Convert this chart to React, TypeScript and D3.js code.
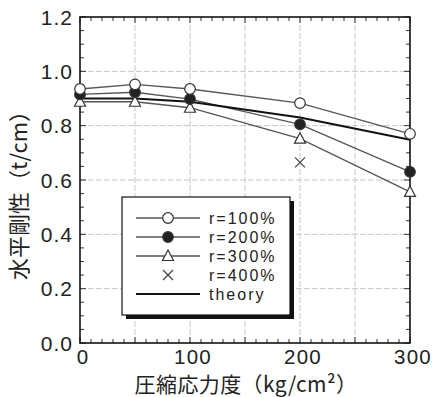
import React from "react";
import * as d3 from "d3";

const xValues = [0, 50, 100, 200, 300];
const r100 = [0.935, 0.952, 0.935, 0.883, 0.77];
const r200 = [0.915, 0.923, 0.898, 0.805, 0.63];
const r300 = [0.888, 0.888, 0.866, 0.752, 0.556];
const r400x = [200];
const r400 = [0.665];
const theory = [0.9, 0.9, 0.888, 0.83, 0.748];
const xTicks = [0, 100, 200, 300];
const yTicks = [0, 0.2, 0.4, 0.6, 0.8, 1.0, 1.2];
const legendLabels = ["r=100%", "r=200%", "r=300%", "r=400%", "theory"];

const W = 434, H = 397;
const L = 80, R = 410, T = 17, B = 343;
const font = "'Liberation Sans', Arial, sans-serif";
const cjk = "'Noto Sans CJK JP', 'Liberation Sans', sans-serif";

export default function App() {
  const x = d3.scaleLinear().domain([0, 300]).range([L, R]);
  const y = d3.scaleLinear().domain([0, 1.2]).range([B, T]);
  const line = d3.line<[number, number]>().x(d => x(d[0])).y(d => y(d[1]));
  const pts = (vals: number[]) => xValues.map((v, i) => [v, vals[i]] as [number, number]);

  const xMinor = d3.range(0, 301, 10);
  const yMinor = d3.range(0, 1.2001, 0.05);
  const gridX = [50, 100, 150, 200, 250];
  const gridY = [0.2, 0.4, 0.6, 0.8, 1.0];

  const circle = (cx: number, cy: number, fill: string, k: string) => (
    <circle key={k} cx={cx} cy={cy} r={5.3} fill={fill} stroke="#333" strokeWidth={1.2} />
  );
  const tri = (cx: number, cy: number, k: string) => (
    <path key={k} d={`M${cx},${cy - 6} L${cx + 5.5},${cy + 4.5} L${cx - 5.5},${cy + 4.5} Z`} fill="#fff" stroke="#333" strokeWidth={1.2} />
  );
  const cross = (cx: number, cy: number, k: string) => (
    <path key={k} d={`M${cx - 5},${cy - 5} L${cx + 5},${cy + 5} M${cx + 5},${cy - 5} L${cx - 5},${cy + 5}`} stroke="#444" strokeWidth={1.2} />
  );

  const lx = 122, ly = 197, lw = 168, lh = 118;
  const rowY = [218, 237, 256, 275, 294];

  return (
    <svg width={W} height={H} style={{ position: "absolute", left: 0, top: 0, background: "#fff" }}>
      <rect x={0} y={0} width={W} height={H} fill="#fff" />
      {/* grid */}
      {gridX.map(g => (
        <line key={"gx" + g} x1={x(g)} x2={x(g)} y1={T} y2={B} stroke="#c8c8c8" strokeWidth={1} strokeDasharray="6,2" />
      ))}
      {gridY.map(g => (
        <line key={"gy" + g} x1={L} x2={R} y1={y(g)} y2={y(g)} stroke="#c8c8c8" strokeWidth={1} strokeDasharray="6,2" />
      ))}
      {/* minor ticks */}
      {xMinor.map(v => {
        const len = v % 50 === 0 ? 6 : 4;
        return (
          <g key={"xm" + v}>
            <line x1={x(v)} x2={x(v)} y1={B} y2={B - len} stroke="#333" strokeWidth={1} />
            <line x1={x(v)} x2={x(v)} y1={T} y2={T + len} stroke="#333" strokeWidth={1} />
          </g>
        );
      })}
      {yMinor.map(v => {
        const len = Math.abs(Math.round(v * 100) % 20) === 0 ? 6 : 4;
        return (
          <g key={"ym" + v.toFixed(2)}>
            <line x1={L} x2={L + len} y1={y(v)} y2={y(v)} stroke="#333" strokeWidth={1} />
            <line x1={R} x2={R - len} y1={y(v)} y2={y(v)} stroke="#333" strokeWidth={1} />
          </g>
        );
      })}
      {/* frame */}
      <rect x={L} y={T} width={R - L} height={B - T} fill="none" stroke="#111" strokeWidth={1.6} />

      {/* series lines */}
      <path d={line(pts(r100)) || ""} fill="none" stroke="#555" strokeWidth={1.3} />
      <path d={line(pts(r200)) || ""} fill="none" stroke="#555" strokeWidth={1.3} />
      <path d={line(pts(r300)) || ""} fill="none" stroke="#555" strokeWidth={1.3} />
      <path d={line(pts(theory)) || ""} fill="none" stroke="#111" strokeWidth={2.2} />

      {/* markers */}
      {pts(r300).map((p, i) => tri(x(p[0]), y(p[1]), "t" + i))}
      {pts(r200).map((p, i) => circle(x(p[0]), y(p[1]), "#222", "f" + i))}
      {pts(r100).map((p, i) => circle(x(p[0]), y(p[1]), "#fff", "o" + i))}
      {r400x.map((v, i) => cross(x(v), y(r400[i]), "x" + i))}

      {/* legend */}
      <rect x={lx + 4} y={ly + 4} width={lw} height={lh} fill="#111" />
      <rect x={lx} y={ly} width={lw} height={lh} fill="#fff" stroke="#111" strokeWidth={1.2} />
      {legendLabels.map((lab, i) => {
        const yy = rowY[i];
        const xs = 136, xe = 200, xm = 168;
        return (
          <g key={"lg" + i}>
            {i === 0 && <line x1={xs} x2={xe} y1={yy} y2={yy} stroke="#555" strokeWidth={1.3} />}
            {i === 1 && <line x1={xs} x2={xe} y1={yy} y2={yy} stroke="#555" strokeWidth={1.3} />}
            {i === 2 && <line x1={xs} x2={xe} y1={yy} y2={yy} stroke="#555" strokeWidth={1.3} />}
            {i === 4 && <line x1={xs} x2={xe} y1={yy} y2={yy} stroke="#111" strokeWidth={2.2} />}
            {i === 0 && circle(xm, yy, "#fff", "lc0")}
            {i === 1 && circle(xm, yy, "#222", "lc1")}
            {i === 2 && tri(xm, yy, "lt2")}
            {i === 3 && cross(xm, yy, "lx3")}
            <text x={209} y={yy + 6} fontFamily={font} fontSize={16} letterSpacing={2} fill="#222">{lab}</text>
          </g>
        );
      })}

      {/* tick labels */}
      {yTicks.map(v => (
        <text key={"yt" + v} x={73} y={y(v) + 7.5} textAnchor="end" fontFamily={font} fontSize={21} letterSpacing={1} fill="#222">
          {v.toFixed(1)}
        </text>
      ))}
      {xTicks.map(v => (
        <text key={"xt" + v} x={x(v) + 3} y={364} textAnchor="middle" fontFamily={font} fontSize={20.5} letterSpacing={1.2} fill="#222">
          {v}
        </text>
      ))}

      {/* axis titles */}
      <text x={246} y={392} textAnchor="middle" fontFamily={cjk} fontSize={21} letterSpacing={0.4} fill="#222">
        圧縮応力度（kg/cm²）
      </text>
      <text transform={`translate(27,${190}) rotate(-90)`} textAnchor="middle" fontFamily={cjk} fontSize={22} fill="#222">
        水平剛性（t/cm）
      </text>
    </svg>
  );
}
